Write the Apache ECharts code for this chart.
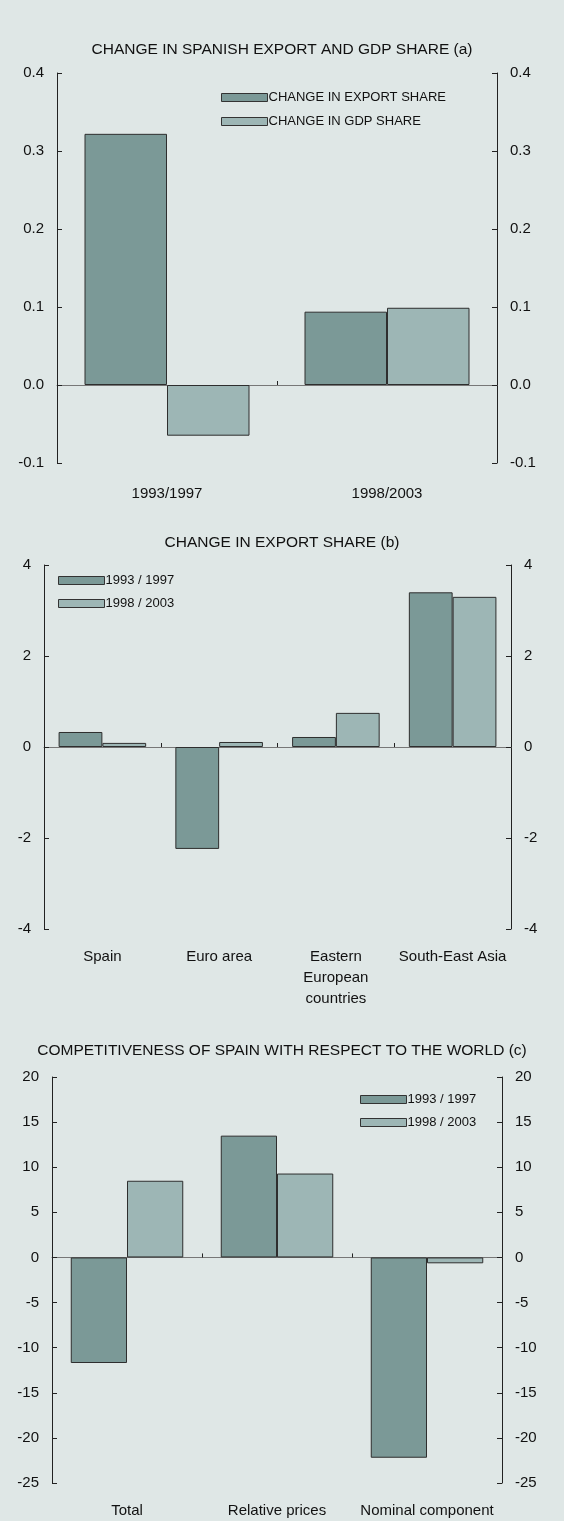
<!DOCTYPE html>
<html>
<head>
<meta charset="utf-8">
<script src="https://cdn.jsdelivr.net/npm/echarts@6/dist/echarts.min.js"></script>
<style>
html,body{margin:0;padding:0;background:#dfe7e6;}
#c{width:564px;height:1521px;}
</style>
</head>
<body>
<div id="c"></div>
<script>
// ---- Data ----
const catsA = ['1993/1997', '1998/2003'];
const exportShareA = [0.322, 0.094];
const gdpShareA = [-0.065, 0.099];
const ticksA = [-0.1, 0.4, 0.1];

const catsB = ['Spain', 'Euro area', 'Eastern\nEuropean\ncountries', 'South-East Asia'];
const b9397 = [0.33, -2.24, 0.22, 3.40];
const b9803 = [0.09, 0.11, 0.75, 3.30];
const ticksB = [-4, 4, 2];

const catsC = ['Total', 'Relative prices', 'Nominal component'];
const c9397 = [-11.7, 13.5, -22.2];
const c9803 = [8.5, 9.3, -0.65];
const ticksC = [-25, 20, 5];

const namesA = ['CHANGE IN EXPORT SHARE', 'CHANGE IN GDP SHARE'];
const namesBC = ['1993 / 1997', '1998 / 2003'];

// ---- Styles ----
const DARK = '#7b9997';
const LIGHT = '#9db6b5';
const BORDER = '#2e2e2e';
const FONT = 'Liberation Sans, Arial, sans-serif';

const grids = [
  {left: 57, right: 67, top: 73, height: 390},
  {left: 44, right: 53, top: 565, height: 364},
  {left: 52, right: 62, top: 1077, height: 412}
];

function yAxes(gi, t, dec) {
  const mk = (pos) => ({
    type: 'value', gridIndex: gi, min: t[0], max: t[1], interval: t[2], position: pos,
    splitLine: {show: false},
    axisLine: {show: true, onZero: false, lineStyle: {color: '#222', width: 1}},
    axisTick: {show: true, inside: true, length: 5, lineStyle: {color: '#222'}},
    axisLabel: {color: '#111', fontSize: 15, fontFamily: FONT, margin: 13,
      formatter: v => dec ? v.toFixed(dec) : String(v)}
  });
  return [mk('left'), mk('right')];
}

function xAxes(gi, cats, margin) {
  return [
    {type: 'category', gridIndex: gi, data: cats, position: 'bottom',
     axisLine: {show: false, onZero: false}, axisTick: {show: false},
     axisLabel: {color: '#111', fontSize: 15, fontFamily: FONT, margin: margin, lineHeight: 21, interval: 0}},
    {type: 'category', gridIndex: gi, data: cats, position: 'bottom',
     axisLine: {show: true, onZero: true, lineStyle: {color: '#777', width: 1}},
     axisTick: {show: true, inside: true, length: 4, lineStyle: {color: '#222'}},
     axisLabel: {show: false}}
  ];
}

function bar(name, data, xi, yi, color) {
  return {
    type: 'bar', name: name, data: data, xAxisIndex: xi, yAxisIndex: yi,
    barGap: '0%', barCategoryGap: '25%',
    itemStyle: {color: color, borderColor: BORDER, borderWidth: 1},
    emphasis: {disabled: true}
  };
}

const yA = yAxes(0, ticksA, 1), yB = yAxes(1, ticksB, 0), yC = yAxes(2, ticksC, 0);
const xA = xAxes(0, catsA, 20), xB = xAxes(1, catsB, 17), xC = xAxes(2, catsC, 17);

const legendBase = {
  orient: 'vertical', icon: 'rect', itemWidth: 46, itemHeight: 8, itemGap: 10, padding: 0,
  itemStyle: {borderWidth: 1, borderColor: '#333'},
  textStyle: {color: '#111', fontSize: 13, fontFamily: FONT, padding: [0, 0, 0, -4]},
  selectedMode: false
};

const option = {
  backgroundColor: '#dfe7e6',
  animation: false,
  title: [
    {text: 'CHANGE IN SPANISH EXPORT AND GDP SHARE (a)', left: 'center', top: 42},
    {text: 'CHANGE IN EXPORT SHARE (b)', left: 'center', top: 535},
    {text: 'COMPETITIVENESS OF SPAIN WITH RESPECT TO THE WORLD (c)', left: 'center', top: 1043}
  ].map(t => Object.assign(t, {padding: 0, textStyle: {color: '#111', fontSize: 15.5, fontWeight: 'normal', fontFamily: FONT}})),
  legend: [
    Object.assign({}, legendBase, {data: namesA, left: 221, top: 91, itemGap: 11, textStyle: Object.assign({}, legendBase.textStyle, {fontSize: 13})}),
    Object.assign({}, legendBase, {data: namesBC, left: 58, top: 574}),
    Object.assign({}, legendBase, {data: namesBC, left: 360, top: 1093})
  ],
  grid: grids,
  xAxis: xA.concat(xB, xC),
  yAxis: yA.concat(yB, yC),
  series: [
    bar(namesA[0], exportShareA, 0, 0, DARK),
    bar(namesA[1], gdpShareA, 0, 0, LIGHT),
    bar(namesBC[0], b9397, 2, 2, DARK),
    bar(namesBC[1], b9803, 2, 2, LIGHT),
    bar(namesBC[0], c9397, 4, 4, DARK),
    bar(namesBC[1], c9803, 4, 4, LIGHT)
  ]
};

// The zero-line axes attach to the left value axis of each grid
option.xAxis[1].axisLine.onZeroAxisIndex = 0;
option.xAxis[3].axisLine.onZeroAxisIndex = 2;
option.xAxis[5].axisLine.onZeroAxisIndex = 4;

const chart = echarts.init(document.getElementById('c'), null, {renderer: 'canvas'});
chart.setOption(option);
</script>
</body>
</html>
